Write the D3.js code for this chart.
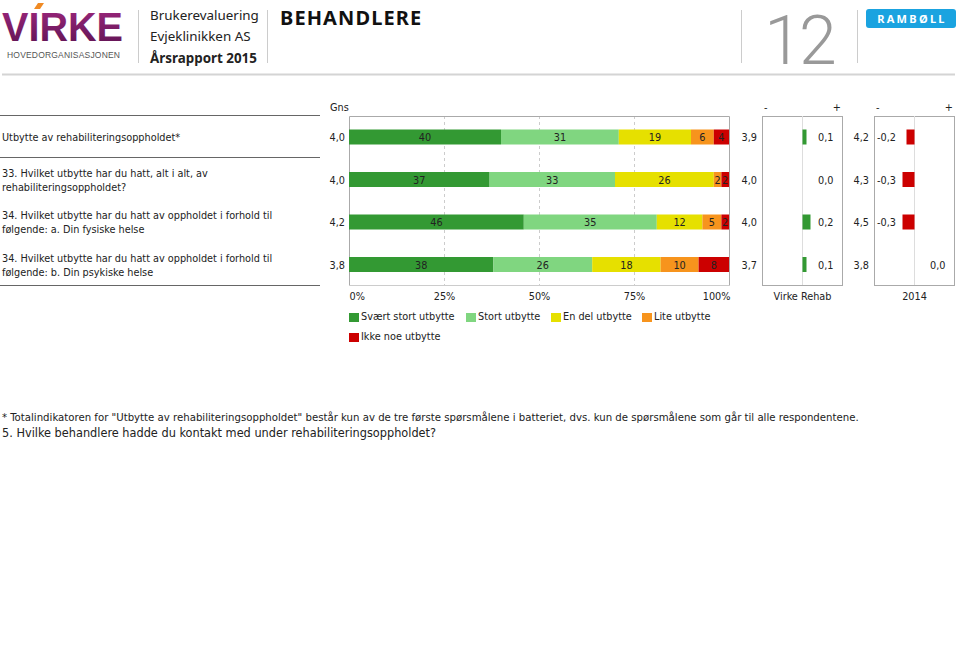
<!DOCTYPE html>
<html><head><meta charset="utf-8">
<script src="https://cdn.jsdelivr.net/npm/d3@7"></script>
<style>
body{margin:0;background:#fff;}
svg{display:block;}
.c{font-family:'DejaVu Sans Condensed','DejaVu Sans',sans-serif;font-stretch:condensed;fill:#222;}
</style></head>
<body>
<script>
// ---- data ----
const questions = [
  ["Utbytte av rehabiliteringsoppholdet*"],
  ["33. Hvilket utbytte har du hatt, alt i alt, av", "rehabiliteringsoppholdet?"],
  ["34. Hvilket utbytte har du hatt av oppholdet i forhold til", "følgende: a. Din fysiske helse"],
  ["34. Hvilket utbytte har du hatt av oppholdet i forhold til", "følgende: b. Din psykiske helse"]
];
const categories = ["Svært stort utbytte", "Stort utbytte", "En del utbytte", "Lite utbytte", "Ikke noe utbytte"];
const colors = ["#339933", "#80d680", "#e6e000", "#f7941d", "#cc0000"];
const svaertStort = [40, 37, 46, 38];
const stort = [31, 33, 35, 26];
const enDel = [19, 26, 12, 18];
const lite = [6, 2, 5, 10];
const ikkeNoe = [4, 2, 2, 8];
const gns = ["4,0", "4,0", "4,2", "3,8"];
const virkeGns = ["3,9", "4,0", "4,0", "3,7"];
const virkeDiff = [0.1, 0.0, 0.2, 0.1];
const y2014Gns = ["4,2", "4,3", "4,5", "3,8"];
const y2014Diff = [-0.2, -0.3, -0.3, 0.0];
const xTicks = [0, 25, 50, 75, 100];

const W = 960, H = 659;
const svg = d3.select("body").append("svg").attr("width", W).attr("height", H);
const HFONT = "'Noto Sans', 'Open Sans', sans-serif";
const FS = 10.8;
function txt(xp, yp, s, size) {
  return svg.append("text").attr("class", "c").attr("x", xp).attr("y", yp).attr("font-size", size || FS)
    .attr("fill", "#222").text(s);
}

// ---- header ----
const defs = svg.append("defs");
const grad = defs.append("linearGradient").attr("id", "vg").attr("x1", 0).attr("y1", 0).attr("x2", 0).attr("y2", 1);
grad.append("stop").attr("offset", "0%").attr("stop-color", "#a0287f");
grad.append("stop").attr("offset", "100%").attr("stop-color", "#5a1250");
svg.append("text").attr("x", 2).attr("y", 41).attr("font-family", "'Liberation Sans', Arial, sans-serif").attr("font-weight", "bold")
  .attr("font-size", 41).attr("textLength", 121).attr("lengthAdjust", "spacingAndGlyphs").attr("fill", "url(#vg)").text("VIRKE");
svg.append("path").attr("d", "M34,9 L38,3 L44,3 L40,9 Z").attr("fill", "#f08a24");
svg.append("text").attr("x", 7).attr("y", 57.5).attr("font-family", "'Liberation Sans', Arial, sans-serif").attr("font-size", 8.5)
  .attr("textLength", 113).attr("lengthAdjust", "spacing").attr("fill", "#555").text("HOVEDORGANISASJONEN");
svg.append("line").attr("x1", 138.5).attr("x2", 138.5).attr("y1", 10).attr("y2", 63).attr("stroke", "#ccc");
svg.append("line").attr("x1", 267.5).attr("x2", 267.5).attr("y1", 10).attr("y2", 63).attr("stroke", "#ccc");
const hdr = [["Brukerevaluering", 20, "normal"], ["Evjeklinikken AS", 41, "normal"], ["Årsrapport 2015", 63, "bold"]];
hdr.forEach(d => svg.append("text").attr("x", 150).attr("y", d[1]).attr("font-family", HFONT).attr("font-size", 13.4)
  .attr("font-weight", d[2]).attr("fill", "#222").text(d[0]));
svg.append("text").attr("x", 280).attr("y", 24.5).attr("font-family", HFONT).attr("font-size", 20).attr("font-weight", "bold")
  .attr("letter-spacing", 1.1).attr("fill", "#111").text("BEHANDLERE");
svg.append("line").attr("x1", 741.5).attr("x2", 741.5).attr("y1", 10).attr("y2", 63).attr("stroke", "#ccc");
svg.append("line").attr("x1", 857.5).attr("x2", 857.5).attr("y1", 10).attr("y2", 63).attr("stroke", "#ccc");
svg.append("text").attr("x", 799).attr("y", 64).attr("text-anchor", "middle").attr("font-family", "Roboto, sans-serif").attr("font-size", 68)
  .attr("font-weight", 300).attr("letter-spacing", -3).attr("fill", "#999").text("12");
svg.append("rect").attr("x", 866).attr("y", 9).attr("width", 90).attr("height", 19).attr("rx", 3).attr("fill", "#1aa3e0");
svg.append("text").attr("x", 912).attr("y", 23).attr("text-anchor", "middle").attr("font-family", HFONT).attr("font-size", 11)
  .attr("font-weight", "bold").attr("letter-spacing", 2.3).attr("fill", "#fff").text("RAMBØLL");
svg.append("line").attr("x1", 2).attr("x2", 955).attr("y1", 74.5).attr("y2", 74.5).attr("stroke", "#d4d4d4").attr("stroke-width", 2);

// ---- layout ----
const topY = 116, bottomY = 285;
const rowY = d3.scalePoint().domain(d3.range(questions.length)).range([137, 264.5]);
const barH = 15;

// left labels & separators
[115, 157, 285].forEach(y => svg.append("line").attr("x1", 0).attr("x2", 320).attr("y1", y + 0.5).attr("y2", y + 0.5)
  .attr("stroke", "#666").attr("stroke-width", 1));
questions.forEach((q, i) => {
  const n = q.length;
  q.forEach((line, j) => txt(2, rowY(i) + 4 + (j - (n - 1) / 2) * 14, line));
});

// main stacked chart
const x = d3.scaleLinear().domain([0, 100]).range([349, 729]);
const g = svg.append("g");
xTicks.slice(1, 4).forEach(t => g.append("line").attr("x1", x(t) + 0.5).attr("x2", x(t) + 0.5).attr("y1", topY).attr("y2", bottomY)
  .attr("stroke", "#ccc").attr("stroke-dasharray", "3,3"));
g.append("path").attr("d", `M${x(0) + 0.5},${bottomY}V${topY + 0.5}H${x(100) + 0.5}V${bottomY}`)
  .attr("fill", "none").attr("stroke", "#aaa");
g.append("line").attr("x1", x(0)).attr("x2", x(100) + 1).attr("y1", bottomY + 0.5).attr("y2", bottomY + 0.5).attr("stroke", "#ccc");

const series = [svaertStort, stort, enDel, lite, ikkeNoe];
const rows = d3.range(questions.length).map(i => {
  const o = { i };
  categories.forEach((c, k) => o[c] = series[k][i]);
  return o;
});
const stacked = d3.stack().keys(categories)(rows);
stacked.forEach((s, k) => {
  s.forEach((d, i) => {
    g.append("rect").attr("x", x(d[0])).attr("y", rowY(i) - barH / 2)
      .attr("width", x(d[1]) - x(d[0])).attr("height", barH).attr("fill", colors[k]);
  });
});
stacked.forEach((s, k) => {
  s.forEach((d, i) => {
    txt((x(d[0]) + x(d[1])) / 2, rowY(i) + 4, d[1] - d[0]).attr("text-anchor", "middle");
  });
});
const xAxis = g.append("g").attr("transform", `translate(0,${bottomY})`)
  .call(d3.axisBottom(x).tickValues(xTicks).tickFormat(d => d + "%").tickSize(0).tickPadding(7));
xAxis.select(".domain").remove();
xAxis.selectAll("text").attr("class", "c").attr("font-size", FS).attr("font-family", null)
  .attr("text-anchor", (d, i) => i === 0 ? "start" : (i === 4 ? "end" : "middle"))
  .attr("dx", (d, i) => i === 0 ? 0 : (i === 4 ? 1 : 0));

txt(330, 111, "Gns");
gns.forEach((v, i) => txt(345, rowY(i) + 4, v).attr("text-anchor", "end"));

// mini diff charts
function mini(x0, avgs, diffs, title, avgX) {
  const s = d3.scaleLinear().domain([-1, 1]).range([x0, x0 + 80]);
  const mg = svg.append("g");
  mg.append("rect").attr("x", s(-1) + 0.5).attr("y", topY + 0.5).attr("width", 80).attr("height", bottomY - topY)
    .attr("fill", "none").attr("stroke", "#aaa");
  mg.append("line").attr("x1", s(0) + 0.5).attr("x2", s(0) + 0.5).attr("y1", topY).attr("y2", bottomY).attr("stroke", "#ddd");
  txt(s(-1) + 2, 111, "-");
  txt(s(1) - 1, 111, "+").attr("text-anchor", "end");
  diffs.forEach((d, i) => {
    if (d !== 0) {
      mg.append("rect").attr("x", Math.min(s(0), s(d)) + 0.5).attr("y", rowY(i) - barH / 2)
        .attr("width", Math.abs(s(d) - s(0))).attr("height", barH).attr("fill", d > 0 ? "#339933" : "#cc0000");
    }
    const lbl = d3.format(".1f")(d).replace(".", ",").replace("−", "-");
    txt(d < 0 ? s(-1) + 3 : s(0) + 16, rowY(i) + 4, lbl);
    txt(avgX, rowY(i) + 4, avgs[i]).attr("text-anchor", "end");
  });
  txt(s(0) + 0.5, 300, title).attr("text-anchor", "middle");
}
mini(762, virkeGns, virkeDiff, "Virke Rehab", 757);
mini(874, y2014Gns, y2014Diff, "2014", 869);

// legend
const legendPos = [[349, 316], [466, 316], [551, 316], [642, 316], [349, 336]];
categories.forEach((c, k) => {
  const [lx, ly] = legendPos[k];
  svg.append("rect").attr("x", lx).attr("y", ly - 3).attr("width", 10).attr("height", 9).attr("fill", colors[k]);
  txt(lx + 12, ly + 4, c);
});

// footer
txt(2, 421, "* Totalindikatoren for \"Utbytte av rehabiliteringsoppholdet\" består kun av de tre første spørsmålene i batteriet, dvs. kun de spørsmålene som går til alle respondentene.", 11.3);
txt(2, 437, "5. Hvilke behandlere hadde du kontakt med under rehabiliteringsoppholdet?", 12.6);
</script>
</body></html>
